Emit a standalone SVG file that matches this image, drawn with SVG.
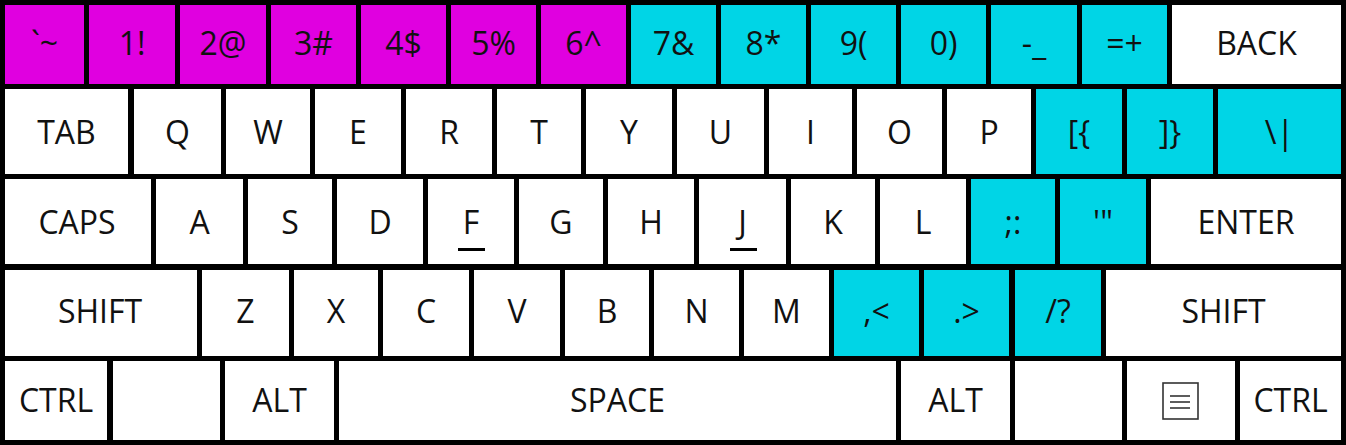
<svg xmlns="http://www.w3.org/2000/svg" width="1346" height="445" viewBox="0 0 1346 445">
<style>
.k{fill:#ffffff}
.m{fill:#e000e0}
.c{fill:#00d5e6}
text{font-family:"Open Sans","Liberation Sans",sans-serif;font-size:32px;fill:#111;text-anchor:middle}
.ul{stroke:#000;stroke-width:3}
.ic{fill:none;stroke:#333;stroke-width:1.6}
</style>
<rect x="0" y="0" width="1346" height="445" fill="#000"/>
<g id="row1">
<g id="k-tilde"><rect class="m" x="5" y="5" width="79" height="79"/><text x="44.5" y="55">`~</text></g>
<g id="k-1"><rect class="m" x="89" y="5" width="86" height="79"/><text x="132" y="55">1!</text></g>
<g id="k-2"><rect class="m" x="180" y="5" width="86" height="79"/><text x="223" y="55">2@</text></g>
<g id="k-3"><rect class="m" x="271" y="5" width="85" height="79"/><text x="313.5" y="55">3#</text></g>
<g id="k-4"><rect class="m" x="361" y="5" width="85" height="79"/><text x="403.5" y="55">4$</text></g>
<g id="k-5"><rect class="m" x="451" y="5" width="85" height="79"/><text x="493.5" y="55">5%</text></g>
<g id="k-6"><rect class="m" x="541" y="5" width="85" height="79"/><text x="583.5" y="55">6^</text></g>
<g id="k-7"><rect class="c" x="631" y="5" width="85" height="79"/><text x="673.5" y="55">7&amp;</text></g>
<g id="k-8"><rect class="c" x="721" y="5" width="85" height="79"/><text x="763.5" y="55">8*</text></g>
<g id="k-9"><rect class="c" x="811" y="5" width="85" height="79"/><text x="853.5" y="55">9(</text></g>
<g id="k-0"><rect class="c" x="901" y="5" width="85" height="79"/><text x="943.5" y="55">0)</text></g>
<g id="k-minus"><rect class="c" x="991" y="5" width="86" height="79"/><text x="1034" y="55">-_</text></g>
<g id="k-equal"><rect class="c" x="1082" y="5" width="85" height="79"/><text x="1124.5" y="55">=+</text></g>
<g id="k-back"><rect class="k" x="1172" y="5" width="169" height="79"/><text x="1256.5" y="55">BACK</text></g>
</g>
<g id="row2">
<g id="k-tab"><rect class="k" x="5" y="89" width="123" height="85"/><text x="66.5" y="144">TAB</text></g>
<g id="k-q"><rect class="k" x="134" y="89" width="87" height="85"/><text x="177.5" y="144">Q</text></g>
<g id="k-w"><rect class="k" x="226" y="89" width="84" height="85"/><text x="268" y="144">W</text></g>
<g id="k-e"><rect class="k" x="315" y="89" width="86" height="85"/><text x="358" y="144">E</text></g>
<g id="k-r"><rect class="k" x="406" y="89" width="86" height="85"/><text x="449" y="144">R</text></g>
<g id="k-t"><rect class="k" x="497" y="89" width="84" height="85"/><text x="539" y="144">T</text></g>
<g id="k-y"><rect class="k" x="586" y="89" width="86" height="85"/><text x="629" y="144">Y</text></g>
<g id="k-u"><rect class="k" x="677" y="89" width="87" height="85"/><text x="720.5" y="144">U</text></g>
<g id="k-i"><rect class="k" x="769" y="89" width="83" height="85"/><text x="810.5" y="144">I</text></g>
<g id="k-o"><rect class="k" x="857" y="89" width="85" height="85"/><text x="899.5" y="144">O</text></g>
<g id="k-p"><rect class="k" x="947" y="89" width="84" height="85"/><text x="989" y="144">P</text></g>
<g id="k-lbracket"><rect class="c" x="1036" y="89" width="86" height="85"/><text x="1079" y="144">[{</text></g>
<g id="k-rbracket"><rect class="c" x="1127" y="89" width="86" height="85"/><text x="1170" y="144">]}</text></g>
<g id="k-backslash"><rect class="c" x="1218" y="89" width="123" height="85"/><text x="1279.5" y="144">\|</text></g>
</g>
<g id="row3">
<g id="k-caps"><rect class="k" x="5" y="179" width="146" height="85"/><text x="77" y="234">CAPS</text></g>
<g id="k-a"><rect class="k" x="156" y="179" width="87" height="85"/><text x="199.5" y="234">A</text></g>
<g id="k-s"><rect class="k" x="248" y="179" width="84" height="85"/><text x="290" y="234">S</text></g>
<g id="k-d"><rect class="k" x="337" y="179" width="86" height="85"/><text x="380" y="234">D</text></g>
<g id="k-f"><rect class="k" x="428" y="179" width="86" height="85"/><text x="471" y="234">F</text><line class="ul" x1="458" y1="249.5" x2="485" y2="249.5"/></g>
<g id="k-g"><rect class="k" x="519" y="179" width="84" height="85"/><text x="561" y="234">G</text></g>
<g id="k-h"><rect class="k" x="608" y="179" width="86" height="85"/><text x="651" y="234">H</text></g>
<g id="k-j"><rect class="k" x="699" y="179" width="87" height="85"/><text x="742.5" y="234">J</text><line class="ul" x1="730" y1="249.5" x2="757" y2="249.5"/></g>
<g id="k-k"><rect class="k" x="791" y="179" width="84" height="85"/><text x="833" y="234">K</text></g>
<g id="k-l"><rect class="k" x="880" y="179" width="86" height="85"/><text x="923" y="234">L</text></g>
<g id="k-semicolon"><rect class="c" x="971" y="179" width="84" height="85"/><text x="1013" y="234">;:</text></g>
<g id="k-quote"><rect class="c" x="1060" y="179" width="86" height="85"/><text x="1103" y="234">'"</text></g>
<g id="k-enter"><rect class="k" x="1151" y="179" width="190" height="85"/><text x="1246" y="234">ENTER</text></g>
</g>
<g id="row4">
<g id="k-lshift"><rect class="k" x="5" y="270" width="192" height="86"/><text x="100" y="323">SHIFT</text></g>
<g id="k-z"><rect class="k" x="202" y="270" width="87" height="86"/><text x="245.5" y="323">Z</text></g>
<g id="k-x"><rect class="k" x="294" y="270" width="84" height="86"/><text x="336" y="323">X</text></g>
<g id="k-c"><rect class="k" x="383" y="270" width="86" height="86"/><text x="426" y="323">C</text></g>
<g id="k-v"><rect class="k" x="474" y="270" width="86" height="86"/><text x="517" y="323">V</text></g>
<g id="k-b"><rect class="k" x="565" y="270" width="84" height="86"/><text x="607" y="323">B</text></g>
<g id="k-n"><rect class="k" x="654" y="270" width="85" height="86"/><text x="696.5" y="323">N</text></g>
<g id="k-m"><rect class="k" x="744" y="270" width="85" height="86"/><text x="786.5" y="323">M</text></g>
<g id="k-comma"><rect class="c" x="834" y="270" width="85" height="86"/><text x="876.5" y="323">,&lt;</text></g>
<g id="k-period"><rect class="c" x="924" y="270" width="85" height="86"/><text x="966.5" y="323">.&gt;</text></g>
<g id="k-slash"><rect class="c" x="1015" y="270" width="86" height="86"/><text x="1058" y="323">/?</text></g>
<g id="k-rshift"><rect class="k" x="1106" y="270" width="235" height="86"/><text x="1223.5" y="323">SHIFT</text></g>
</g>
<g id="row5">
<g id="k-lctrl"><rect class="k" x="5" y="361" width="102" height="79"/><text x="56" y="412">CTRL</text></g>
<g id="k-lblank"><rect class="k" x="113" y="361" width="107" height="79"/></g>
<g id="k-lalt"><rect class="k" x="225" y="361" width="109" height="79"/><text x="279.5" y="412">ALT</text></g>
<g id="k-space"><rect class="k" x="339" y="361" width="557" height="79"/><text x="617.5" y="412">SPACE</text></g>
<g id="k-ralt"><rect class="k" x="901" y="361" width="109" height="79"/><text x="955.5" y="412">ALT</text></g>
<g id="k-rblank"><rect class="k" x="1015" y="361" width="107" height="79"/></g>
<g id="k-menu"><rect class="k" x="1127" y="361" width="108" height="79"/><rect class="ic" x="1163" y="383" width="35" height="36"/><line class="ic" x1="1170" y1="396" x2="1190" y2="396"/><line class="ic" x1="1170" y1="402" x2="1190" y2="402"/><line class="ic" x1="1170" y1="408" x2="1190" y2="408"/></g>
<g id="k-rctrl"><rect class="k" x="1240" y="361" width="101" height="79"/><text x="1290.5" y="412">CTRL</text></g>
</g>
<g id="connectors"></g>
</svg>
